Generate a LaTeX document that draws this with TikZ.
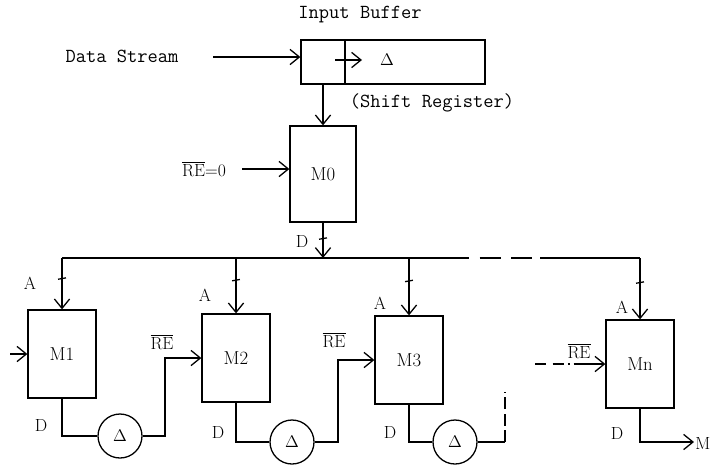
\documentclass[tikz,border=0pt]{standalone}
\usetikzlibrary{arrows.meta}

\begin{document}
\begin{tikzpicture}[x=0.03cm, y=-0.03cm, line width=1.1pt,
  every node/.style={font=\fontsize{15}{17}\selectfont},
  bigtext/.style={font=\ttfamily\fontsize{17}{19}\selectfont},
  mem/.style={draw, minimum width=2.04cm, minimum height=2.64cm, inner sep=0pt,
    font=\fontsize{16}{18}\selectfont},
  delay/.style={draw, circle, minimum size=1.32cm, inner sep=0pt},
  sig/.style={-{Straight Barb[length=8pt,width=13pt]}},
  bustick/.style={draw, inner sep=0pt, minimum width=0.24cm, minimum height=0pt, rotate=10}]
  \useasboundingbox (0,0) rectangle (712,465);
  % input buffer: first cell and shift register
  \node[draw, minimum width=1.32cm, minimum height=1.32cm] (cellA) at (323,62) {};
  \node[draw, minimum width=4.2cm, minimum height=1.32cm] (cellB) at (415,62) {};
  \node[bigtext] (title) at (360,15) {Input Buffer};
  \node[bigtext] (shreg) at (432,103) {(Shift Register)};
  \node (dl0) at (387,60) {$\Delta$};
  \coordinate (shS) at (335,60);
  \coordinate (shE) at (362,60);
  \draw[sig] (shS) -- (shE);
  % data stream into the buffer
  \node[bigtext] (ds) at (122,56) {Data Stream};
  \coordinate (dsin) at (213,57);
  \draw[sig] (dsin) -- (cellA.west |- dsin);
  % M0
  \node[mem, minimum width=1.98cm, minimum height=2.88cm] (m0) at (323,174) {M0};
  \draw[sig] (cellA.south) -- (m0.north);
  \node (re0) at (204,169) {$\overline{\mbox{RE}}$=0};
  \draw[sig, shorten <=0.35cm] (re0.east) -- (m0.west |- re0.east);
  \node (dm0) at (302,241) {D};
  % bus
  \coordinate (busL) at (62,258);
  \coordinate (busA) at (448,258);
  \coordinate (busB) at (540,258);
  \coordinate (busR) at (640,258);
  \draw[sig] (m0.south) -- (m0.south |- busL) node[pos=0.45, bustick] (tk0) {};
  \draw (busL) -- (busA);
  \draw[dashed, dash pattern=on 18pt off 9pt] (busA) -- (busB);
  \draw (busB) -- (busR);
  % memories M1 .. Mn
  \node[mem] (m1) at (62,354) {M1};
  \node[mem] (m2) at (236,358) {M2};
  \node[mem] (m3) at (409,360) {M3};
  \node[mem] (mn) at (640,364) {Mn};
  \foreach \m/\t in {m1/tk1, m2/tk2, m3/tk3, mn/tk4}
    \draw[sig] (\m.north |- busL) -- (\m.north) node[pos=0.4, bustick] (\t) {};
  \node (a1) at (30,283) {A};
  \node (a2) at (205,295) {A};
  \node (a3) at (380,303) {A};
  \node (a4) at (622,307) {A};
  \node (d1lab) at (41,425) {D};
  \node (d2lab) at (218,432) {D};
  \node (d3lab) at (390,432) {D};
  \node (d4lab) at (617,433) {D};
  % input of M1
  \coordinate (in1) at (10,354);
  \draw[sig] (in1) -- (m1.west);
  % delay M1 -> M2
  \node[delay] (d1) at (120,436) {$\Delta$};
  \coordinate (r1) at (165,0);
  \draw (m1.south) |- (d1.west);
  \draw[sig] (d1.east) -| (r1 |- m2.west) -- (m2.west);
  \node (re1) at (162,342) {$\overline{\mbox{RE}}$};
  % delay M2 -> M3
  \node[delay] (d2) at (292,442) {$\Delta$};
  \coordinate (r2) at (338,0);
  \draw (m2.south) |- (d2.west);
  \draw[sig] (d2.east) -| (r2 |- m3.west) -- (m3.west);
  \node (re2) at (334,340) {$\overline{\mbox{RE}}$};
  % delay after M3, continues dashed
  \node[delay] (d3) at (455,442) {$\Delta$};
  \coordinate (c3) at (505,442);
  \coordinate (c3up) at (505,392);
  \draw (m3.south) |- (d3.west);
  \draw (d3.east) -- (c3);
  \draw[dash pattern=on 10pt off 4pt] (c3) -- (c3up);
  % input and output of Mn
  \coordinate (inN) at (535,364);
  \draw[sig, dash pattern=on 9pt off 6pt on 10pt off 3pt on 2pt off 3pt on 30pt] (inN) -- (mn.west);
  \node (ren) at (579,351) {$\overline{\mbox{RE}}$};
  \coordinate (mout) at (694,442);
  \draw[sig] (mn.south) |- (mout);
  \node[anchor=east, inner sep=0pt] (mlab) at (711,443) {M};
\end{tikzpicture}
\end{document}
